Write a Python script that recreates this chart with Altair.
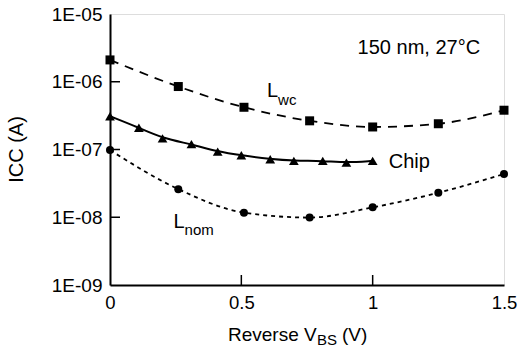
import altair as alt
import pandas as pd

# ---- data ----
lwc_x = [0.0, 0.26, 0.51, 0.76, 1.0, 1.25, 1.5]
lwc_i = [2.1e-6, 8.5e-7, 4.2e-7, 2.65e-7, 2.15e-7, 2.4e-7, 3.8e-7]

chip_x = [0.0, 0.11, 0.2, 0.31, 0.41, 0.5, 0.61, 0.7, 0.81, 0.9, 1.0]
chip_i = [3.1e-7, 2.1e-7, 1.46e-7, 1.2e-7, 9.3e-8, 8.2e-8, 7.2e-8, 6.8e-8, 6.8e-8, 6.4e-8, 6.8e-8]

nom_x = [0.0, 0.26, 0.51, 0.76, 1.0, 1.25, 1.5]
nom_i = [9.8e-8, 2.6e-8, 1.17e-8, 9.9e-9, 1.4e-8, 2.3e-8, 4.35e-8]

x_ticks = [0, 0.5, 1, 1.5]
y_ticks = [1e-9, 1e-8, 1e-7, 1e-6, 1e-5]
y_inner_ticks = [1e-8, 1e-7, 1e-6]
x_inner_ticks = [0.5, 1.0]

FONT = "Liberation Sans"

x_scale = alt.Scale(domain=[0, 1.5], nice=False, zero=False)
y_scale = alt.Scale(type="log", domain=[1e-9, 1e-5], nice=False)

x_axis = alt.Axis(values=x_ticks, format="~g", title=None, ticks=False, grid=False,
                  domainColor="black", domainWidth=2, labelFontSize=18.5, labelFont=FONT,
                  labelColor="black", labelPadding=8, labelFlush=False, labelOverlap=False)
y_axis = alt.Axis(values=y_ticks, labelExpr="'1E-0' + round(-log(datum.value)/LN10)",
                  title="ICC (A)", titleFont=FONT, titleFontSize=20, titleFontWeight="normal",
                  titleColor="black", titleAngle=-90, titleAlign="center",
                  titleBaseline="alphabetic", titleX=-88, titleY=135,
                  ticks=False, grid=False, domainColor="black", domainWidth=2,
                  labelFontSize=19, labelFont=FONT, labelColor="black", labelPadding=8,
                  labelFlush=False, labelOverlap=False)

X = alt.X("v:Q", scale=x_scale, axis=x_axis)
Y = alt.Y("i:Q", scale=y_scale, axis=y_axis)


def frame(xs, ys):
    return pd.DataFrame({"v": xs, "i": ys})


lwc = frame(lwc_x, lwc_i)
chip = frame(chip_x, chip_i)
nom = frame(nom_x, nom_i)

line_lwc = alt.Chart(lwc).mark_line(color="black", strokeWidth=1.8, strokeDash=[9, 7],
                                    interpolate="monotone").encode(x=X, y=Y)
line_chip = alt.Chart(chip).mark_line(color="black", strokeWidth=2,
                                      interpolate="basis").encode(x=X, y=Y)
line_nom = alt.Chart(nom).mark_line(color="black", strokeWidth=1.8, strokeDash=[4, 4],
                                    interpolate="monotone").encode(x=X, y=Y)

pt_lwc = alt.Chart(lwc).mark_point(shape="square", filled=True, size=81, color="black",
                                   opacity=1).encode(x=X, y=Y)
pt_chip = alt.Chart(chip).mark_point(shape="triangle-up", filled=True, size=95, color="black",
                                     opacity=1).encode(x=X, y=Y)
pt_nom = alt.Chart(nom).mark_point(shape="circle", filled=True, size=64, color="black",
                                   opacity=1).encode(x=X, y=Y)

# inward ticks
ytick = alt.Chart(pd.DataFrame({"i": y_inner_ticks})).mark_rule(
    color="black", strokeWidth=1.5).encode(y=Y, x=alt.value(0), x2=alt.value(10))
xtick = alt.Chart(pd.DataFrame({"v": x_inner_ticks})).mark_rule(
    color="black", strokeWidth=1.5).encode(x=X, y=alt.value(271), y2=alt.value(261))

# annotations (data coordinates)
def label(text, xv, yv, size=20, align="left", dx=0, dy=0):
    return alt.Chart(pd.DataFrame({"v": [xv], "i": [yv], "t": [text]})).mark_text(
        font=FONT, fontSize=size, color="black", align=align, baseline="alphabetic",
        dx=dx, dy=dy).encode(x=X, y=Y, text="t:N")

ann = [
    label("150 nm, 27°C", 1.409, 2.57e-6, align="right"),
    label("L", 0.598, 5.96e-7),
    label("wc", 0.598, 5.96e-7, size=15, dx=11, dy=8),
    label("Chip", 1.061, 5.33e-8),
    label("L", 0.242, 6.93e-9),
    label("nom", 0.242, 6.93e-9, size=15, dx=11, dy=7),
]

# x-axis title with subscript
def ptext(text, px, py, size):
    return alt.Chart(pd.DataFrame({"t": [text]})).mark_text(
        font=FONT, fontSize=size, color="black", align="left", baseline="alphabetic").encode(
        x=alt.value(px), y=alt.value(py), text="t:N")

xtitle = [ptext("Reverse V", 118, 327, 19), ptext("BS", 207, 331, 15), ptext("(V)", 232, 327, 19)]

chart = alt.layer(
    line_lwc, line_chip, line_nom, ytick, xtick, pt_lwc, pt_chip, pt_nom, *ann, *xtitle
).properties(
    width=394, height=271,
    autosize=alt.AutoSizeParams(type="none"),
    padding={"left": 110, "top": 14, "right": 14, "bottom": 64},
).configure_view(stroke="black", strokeWidth=1.5).configure(background="white")

chart.save("out.html", embed_options={"renderer": "svg", "actions": False})
